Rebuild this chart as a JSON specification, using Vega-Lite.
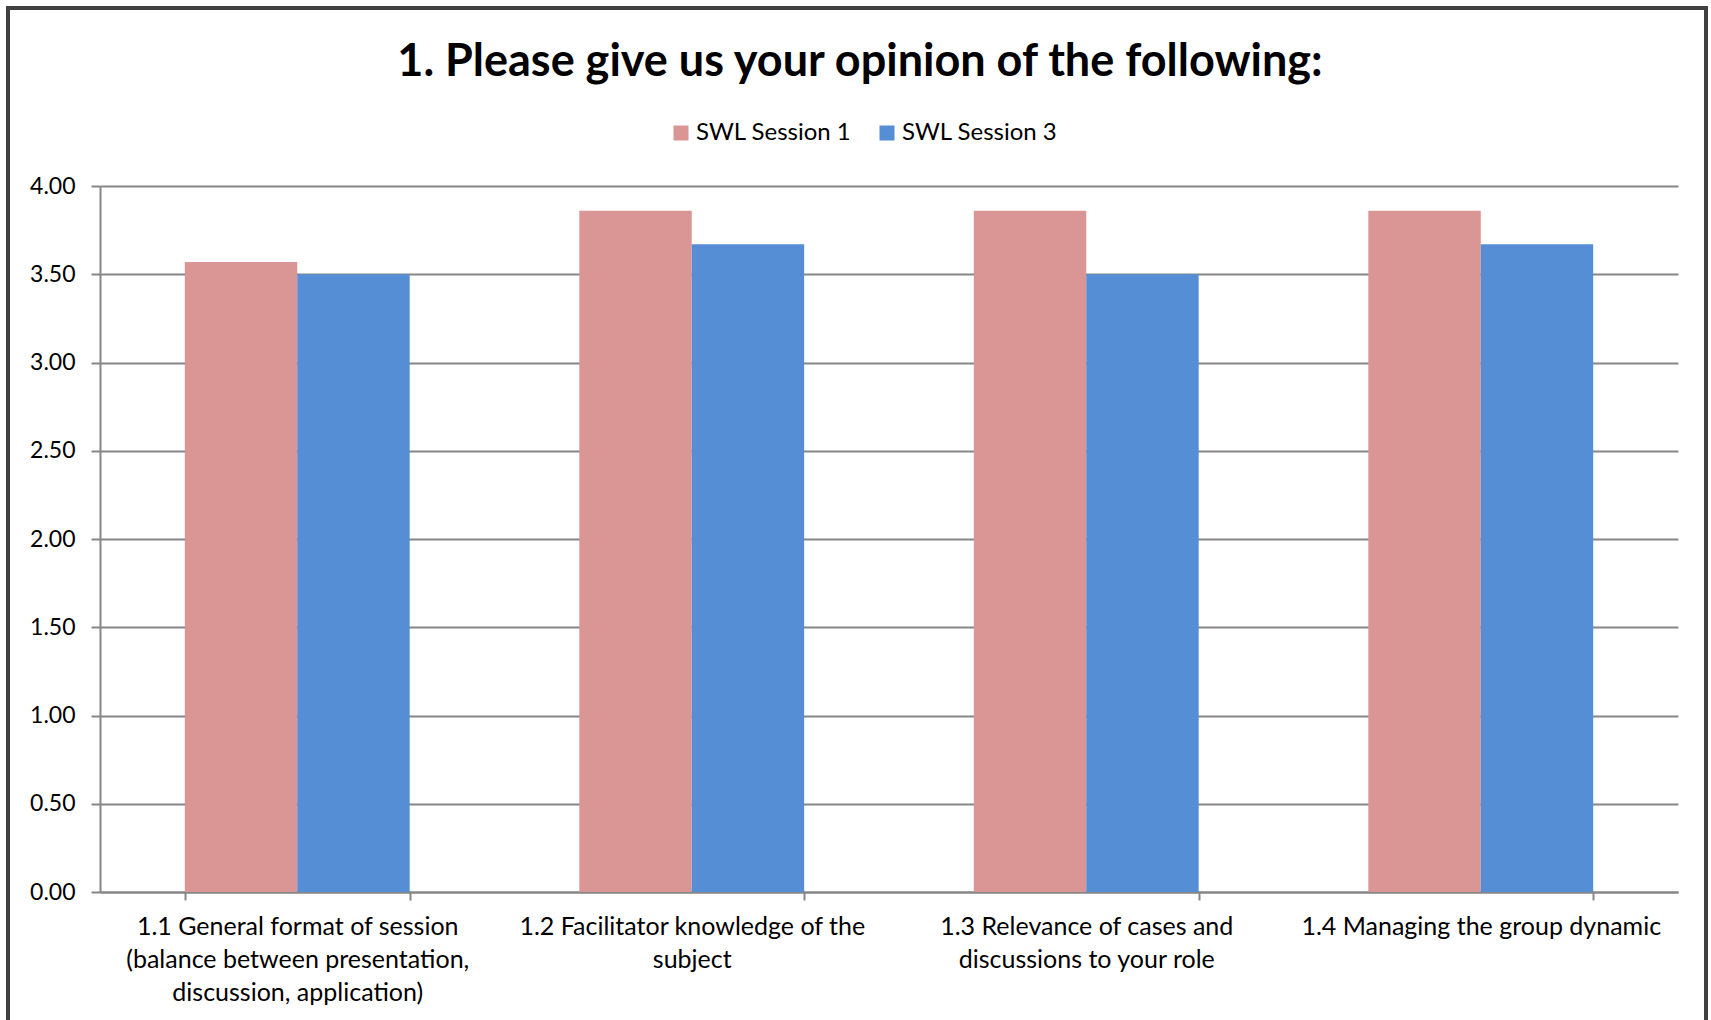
{
  "$schema": "https://vega.github.io/schema/vega-lite/v6.json",
  "autosize": "none",
  "width": 1578,
  "height": 706,
  "padding": {"left": 100, "top": 186, "right": 33, "bottom": 128},
  "background": "#ffffff",
  "title": {
    "text": "1. Please give us your opinion of the following:",
    "font": "Lato",
    "fontSize": 45,
    "fontWeight": "bold",
    "color": "#000000",
    "anchor": "middle",
    "frame": "bounds",
    "offset": -78,
    "dx": 3
  },
  "config": {
    "font": "Lato",
    "view": {"stroke": null},
    "axis": {
      "labelFont": "Lato",
      "labelColor": "#000000",
      "domainColor": "#868686",
      "domainWidth": 2,
      "tickColor": "#868686",
      "tickWidth": 2,
      "gridColor": "#868686",
      "gridWidth": 2,
      "title": null
    },
    "legend": {
      "labelFont": "Lato",
      "labelColor": "#000000"
    }
  },
  "data": {
    "values": [
      {"item": "1.1 General format of session\n(balance between presentation,\ndiscussion, application)", "series": "SWL Session 1", "score": 3.57},
      {"item": "1.1 General format of session\n(balance between presentation,\ndiscussion, application)", "series": "SWL Session 3", "score": 3.50},
      {"item": "1.2 Facilitator knowledge of the\nsubject", "series": "SWL Session 1", "score": 3.86},
      {"item": "1.2 Facilitator knowledge of the\nsubject", "series": "SWL Session 3", "score": 3.67},
      {"item": "1.3 Relevance of cases and\ndiscussions to your role", "series": "SWL Session 1", "score": 3.86},
      {"item": "1.3 Relevance of cases and\ndiscussions to your role", "series": "SWL Session 3", "score": 3.50},
      {"item": "1.4 Managing the group dynamic", "series": "SWL Session 1", "score": 3.86},
      {"item": "1.4 Managing the group dynamic", "series": "SWL Session 3", "score": 3.67}
    ]
  },
  "layer": [
    {
      "mark": {"type": "bar"},
      "encoding": {
        "x": {
          "field": "item",
          "type": "nominal",
          "scale": {"paddingInner": 0.43, "paddingOuter": 0.215},
          "axis": {
            "labelExpr": "split(datum.label, '\\n')",
            "labelAngle": 0,
            "labelFontSize": 25,
            "labelLineHeight": 33,
            "labelLimit": 400,
            "labelPadding": 14,
            "tickBand": "extent",
            "tickSize": 8,
            "grid": false
          }
        },
        "xOffset": {"field": "series", "type": "nominal"},
        "y": {
          "field": "score",
          "type": "quantitative",
          "scale": {"domain": [0, 4]},
          "axis": {
            "values": [0, 0.5, 1, 1.5, 2, 2.5, 3, 3.5, 4],
            "format": ".2f",
            "labelFontSize": 23,
            "labelPadding": 16,
            "tickSize": 9,
            "grid": true
          }
        },
        "color": {
          "field": "series",
          "type": "nominal",
          "scale": {"domain": ["SWL Session 1", "SWL Session 3"], "range": ["#D99694", "#558ED5"]},
          "legend": {
            "title": null,
            "orient": "none",
            "direction": "horizontal",
            "legendX": 569,
            "legendY": -65,
            "symbolType": "square",
            "symbolSize": 225,
            "symbolStrokeWidth": 0,
            "labelFontSize": 24,
            "labelOffset": 3,
            "columnPadding": 23
          }
        }
      }
    },
    {
      "mark": {
        "type": "rect",
        "filled": false,
        "stroke": "#404040",
        "strokeWidth": 3,
        "xOffset": -92,
        "x2Offset": 28,
        "yOffset": -178,
        "y2Offset": 150
      },
      "encoding": {
        "x": {"value": 0},
        "x2": {"value": "width"},
        "y": {"value": 0},
        "y2": {"value": "height"}
      }
    }
  ]
}
